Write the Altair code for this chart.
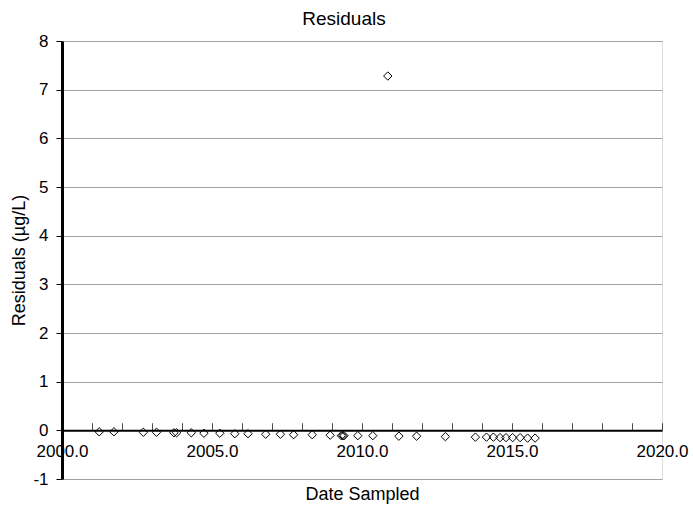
import altair as alt
import pandas as pd

# Sample dates (decimal years) and residuals (µg/L)
dates = [2001.24, 2001.73, 2002.71, 2003.15, 2003.73, 2003.82, 2004.31, 2004.73,
         2005.26, 2005.76, 2006.20, 2006.79, 2007.28, 2007.72, 2008.34, 2008.94,
         2009.31, 2009.36, 2009.40, 2009.86, 2010.36, 2010.86, 2011.23, 2011.82,
         2012.78, 2013.78, 2014.15, 2014.38, 2014.60, 2014.80, 2015.02, 2015.27,
         2015.52, 2015.77]
residuals = [-0.03, -0.03, -0.04, -0.04, -0.05, -0.05, -0.05, -0.06,
             -0.06, -0.07, -0.07, -0.08, -0.08, -0.09, -0.09, -0.10,
             -0.11, -0.11, -0.11, -0.11, -0.11, 7.28, -0.12, -0.12,
             -0.13, -0.14, -0.14, -0.14, -0.15, -0.15, -0.15, -0.15,
             -0.16, -0.16]

x_labels = [2000, 2005, 2010, 2015, 2020]
x_minor = list(range(2000, 2021))
y_ticks = [-1, 0, 1, 2, 3, 4, 5, 6, 7, 8]

df = pd.DataFrame({"date": dates, "res": residuals})
ticks_df = pd.DataFrame({"year": x_minor})

FONT = "Liberation Sans"

xscale = alt.Scale(domain=[2000, 2020], nice=False, zero=False)
yscale = alt.Scale(domain=[-1, 8], nice=False, zero=False)

x_axis = alt.Axis(values=x_labels, format=".1f", offset=-48.67, ticks=False,
                  tickSize=0, domainColor="black", domainWidth=2, grid=False,
                  labelPadding=13, labelFontSize=17, labelColor="black",
                  labelFont=FONT, titleFont=FONT, titleFontSize=18,
                  titleFontWeight="normal", titleColor="black", titleY=55,
                  labelFlush=False, labelOverlap=False)

y_axis = alt.Axis(values=y_ticks, labelExpr="'' + datum.value",
                  domainColor="black", domainWidth=3,
                  tickColor="black", tickSize=6, tickWidth=1,
                  labelFontSize=17, labelColor="black", labelFont=FONT,
                  labelPadding=8, grid=True, gridColor="#a0a0a0", gridWidth=1,
                  titleFont=FONT, titleFontSize=18, titleFontWeight="normal",
                  titleColor="black", titlePadding=4,
                  labelFlush=False, labelOverlap=False)

points = alt.Chart(df).mark_point(
    shape="diamond", filled=False, stroke="black", strokeWidth=1, size=70, opacity=1
).encode(
    x=alt.X("date:Q", scale=xscale, title="Date Sampled", axis=x_axis),
    y=alt.Y("res:Q", scale=yscale, title="Residuals (µg/L)", axis=y_axis),
)

tick_marks = alt.Chart(ticks_df).mark_tick(
    orient="vertical", color="black", size=7, thickness=1, yOffset=-3.5, xOffset=0.5
).encode(
    x=alt.X("year:Q", scale=xscale, title="Date Sampled", axis=x_axis),
    y=alt.datum(0, scale=yscale),
)

chart = alt.layer(tick_marks, points).properties(
    width=600,
    height=438,
    padding={"left": 62, "top": 41, "right": 31, "bottom": 27},
    autosize=alt.AutoSizeParams(type="none"),
    title=alt.Title("Residuals", font=FONT, fontSize=19, fontWeight="normal",
                    color="black", anchor="middle", dx=-18, offset=3),
).configure_view(
    stroke="#333333", strokeWidth=1
).configure(background="white")

chart.save("out.html", embed_options={"renderer": "svg", "actions": False})
